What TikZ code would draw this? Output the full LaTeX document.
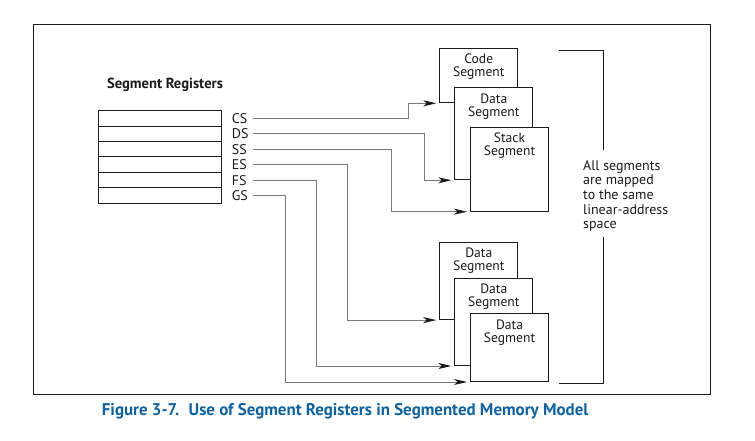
\documentclass[tikz,border=0pt]{standalone}
\usepackage{fontspec}
\setmainfont{PT Sans}
\usepackage{tikz}
\usetikzlibrary{arrows.meta,positioning,calc}
\definecolor{cInk}{HTML}{1A1A1A}
\definecolor{cGray}{HTML}{7A7A7A}
\definecolor{cBlue}{HTML}{0B62A8}
\tikzset{
  segbox/.style={draw=cInk,fill=white,line width=1pt,minimum width=78pt,anchor=north west,inner sep=0pt},
  segtxt/.style={align=center,font=\fontsize{13.6}{13}\selectfont,text=cInk,inner sep=0pt,anchor=north},
  regrow/.style={draw=cInk,line width=1pt,minimum width=123.4pt,minimum height=15.43pt,inner sep=0pt},
  reglbl/.style={font=\fontsize{14}{14}\selectfont,text=cInk,inner sep=0pt,text width=21pt,align=left,anchor=west},
  arr/.style={-{Stealth[length=13pt,width=6pt,inset=3.5pt,color=cInk]},line width=1pt,color=cGray,shorten >=3pt},
  lbl/.style={font=\fontsize{14}{14.6}\selectfont,text=cInk,align=left,inner sep=0pt},
}

\begin{document}
\begin{tikzpicture}[x=1pt,y=-1pt]
  \useasboundingbox (0,0) rectangle (755,441);
  \draw[cInk,line width=1pt] (33,25) rectangle (710,394);
  % registers
  \node[font=\bfseries\fontsize{14.6}{16}\selectfont,text=cInk] (title) at (165,85) {Segment Registers};
  \foreach \n [count=\i from 0] in {cs,ds,ss,es,fs,gs}{\node[regrow] (r\n) at (160,118.4+15.43*\i) {};}
  \foreach \n/\t in {cs/CS,ds/DS,ss/SS,es/ES,fs/FS,gs/GS}{\node[reglbl] (l\n) at ([xshift=9.5pt]r\n.east) {\t};}
  % upper segments
  \node[segbox,minimum height=54pt] (code) at (439.3,48.3) {};
  \node[segtxt] (codet) at ([yshift=-5.5pt]code.north) {Code\\Segment};
  \node[segbox,minimum height=92.6pt] (data) at (454.3,86.7) {};
  \node[segtxt] (datat) at ([yshift=-6.5pt]data.north) {Data\\Segment};
  \node[segbox,minimum height=84pt] (stack) at (470,126.7) {};
  \node[segtxt] (stackt) at ([yshift=-5.5pt]stack.north) {Stack\\Segment};
  % lower segments
  \node[segbox,minimum height=77.4pt] (dA) at (439.3,241.7) {};
  \node[segtxt] (dAt) at ([yshift=-6pt]dA.north) {Data\\Segment};
  \node[segbox,minimum height=87.3pt] (dB) at (454.3,277.7) {};
  \node[segtxt] (dBt) at ([yshift=-6pt]dB.north) {Data\\Segment};
  \node[segbox,minimum height=67.7pt] (dC) at (470,313.3) {};
  \node[segtxt] (dCt) at ([yshift=-6pt]dC.north) {Data\\Segment};
  % connectors
  \foreach \n/\b/\d in {cs/code/31,ds/data/30,ss/stack/79,es/dA/91.6,fs/dB/138.3,gs/dC/185}
    \draw[arr] (l\n.east) -| ([xshift=-\d pt]\b.south west) -- (\b.south west);
  % bracket
  \node[lbl,anchor=west] (note) at (583,196) {All segments\\are mapped\\to the same\\linear-address\\space};
  \draw[cInk,line width=1pt] (559,50.7) -| (603,150);
  \draw[cInk,line width=1pt] (603,236.7) |- (559,383.3);
  % caption
  \node[font=\bfseries\fontsize{16.9}{19}\selectfont,text=cBlue,anchor=west,inner sep=0pt] (cap) at (101.7,411.7) {Figure 3-7.\hspace{0.55em}Use of Segment Registers in Segmented Memory Model};
\end{tikzpicture}
\end{document}
